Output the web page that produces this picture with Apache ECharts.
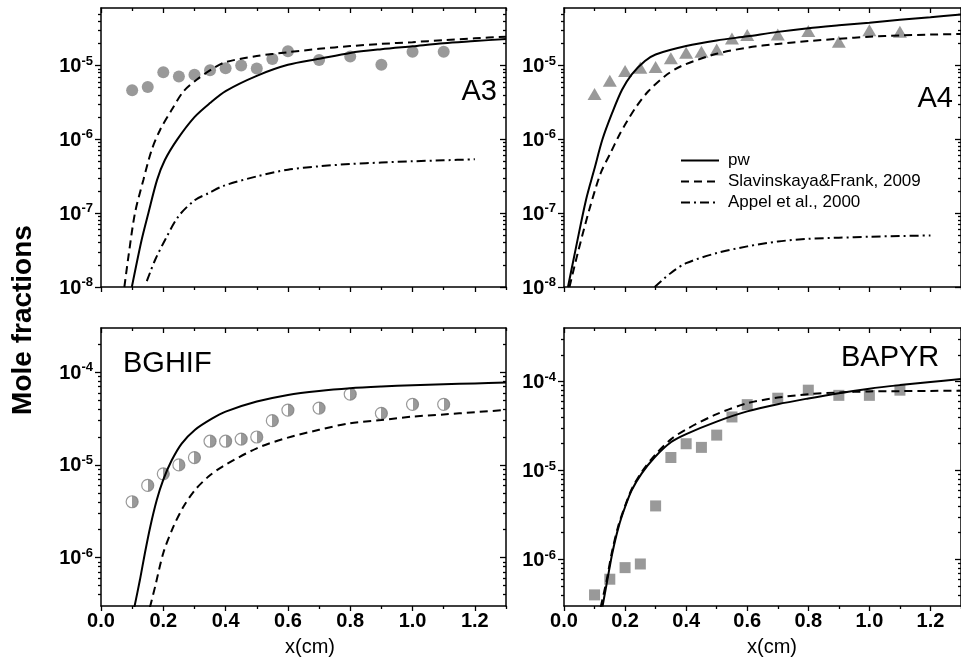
<!DOCTYPE html>
<html>
<head>
<meta charset="utf-8">
<title>Mole fractions of PAH species</title>
<script src="https://cdn.jsdelivr.net/npm/echarts@6/dist/echarts.min.js"></script>
<style>
  html, body { margin: 0; padding: 0; background: #fff; }
  #chart { width: 961px; height: 664px; }
</style>
</head>
<body>
<div id="chart"></div>
<script>
// ---- Measured mole fractions (symbols) ----
const xExp = [0.1, 0.15, 0.2, 0.25, 0.3, 0.35, 0.4, 0.45, 0.5, 0.55, 0.6, 0.7, 0.8, 0.9, 1.0, 1.1];
const a3Exp = [4.6e-6, 5.1e-6, 8.1e-6, 7.1e-6, 7.5e-6, 8.6e-6, 9.2e-6, 1.0e-5, 9.1e-6, 1.22e-5, 1.56e-5, 1.19e-5, 1.32e-5, 1.02e-5, 1.53e-5, 1.53e-5];
const a4Exp = [4.1e-6, 6.2e-6, 8.4e-6, 9.3e-6, 9.5e-6, 1.25e-5, 1.49e-5, 1.53e-5, 1.65e-5, 2.32e-5, 2.58e-5, 2.63e-5, 2.92e-5, 2.09e-5, 3.0e-5, 2.86e-5];
const bghifExp = [4.0e-6, 6.0e-6, 8.0e-6, 1.0e-5, 1.2e-5, 1.8e-5, 1.8e-5, 1.9e-5, 2.0e-5, 3.0e-5, 3.9e-5, 4.1e-5, 5.8e-5, 3.6e-5, 4.5e-5, 4.5e-5];
const bapyrExp = [4.0e-7, 6.0e-7, 8.1e-7, 8.9e-7, 4.0e-6, 1.4e-5, 2.0e-5, 1.82e-5, 2.5e-5, 4.0e-5, 5.5e-5, 6.5e-5, 8.0e-5, 7.0e-5, 7.0e-5, 8.0e-5];

// ---- Model profiles ----
// A3
const a3PwX = [0.099, 0.13, 0.152, 0.18, 0.205, 0.245, 0.3, 0.35, 0.4, 0.5, 0.6, 0.7, 0.8, 0.9, 1.0, 1.1, 1.2, 1.3];
const a3PwY = [1.0e-8, 4.27e-8, 1.0e-7, 2.82e-7, 5.25e-7, 1.0e-6, 2.0e-6, 3.1e-6, 4.5e-6, 7.24e-6, 1.02e-5, 1.23e-5, 1.48e-5, 1.66e-5, 1.82e-5, 2.0e-5, 2.14e-5, 2.29e-5];
const a3SfX = [0.075, 0.088, 0.109, 0.136, 0.163, 0.19, 0.227, 0.265, 0.308, 0.356, 0.4, 0.5, 0.6, 0.7, 0.8, 0.9, 1.0, 1.1, 1.2, 1.3];
const a3SfY = [1.0e-8, 2.57e-8, 1.0e-7, 2.82e-7, 7.24e-7, 1.35e-6, 2.51e-6, 4.47e-6, 6.46e-6, 8.91e-6, 1.11e-5, 1.34e-5, 1.51e-5, 1.68e-5, 1.83e-5, 1.96e-5, 2.07e-5, 2.2e-5, 2.33e-5, 2.45e-5];
const a3ApX = [0.147, 0.174, 0.206, 0.249, 0.302, 0.345, 0.393, 0.5, 0.6, 0.7, 0.8, 0.9, 1.0, 1.1, 1.2];
const a3ApY = [1.2e-8, 2.34e-8, 4.37e-8, 9.1e-8, 1.51e-7, 1.86e-7, 2.34e-7, 3.15e-7, 3.88e-7, 4.31e-7, 4.63e-7, 4.85e-7, 5.04e-7, 5.2e-7, 5.36e-7];
// A4
const a4PwX = [0.013, 0.04, 0.072, 0.099, 0.126, 0.158, 0.19, 0.222, 0.265, 0.3, 0.4, 0.5, 0.6, 0.7, 0.8, 0.9, 1.0, 1.1, 1.2, 1.3];
const a4PwY = [1.0e-8, 3.55e-8, 1.51e-7, 3.89e-7, 1.0e-6, 2.29e-6, 4.68e-6, 7.59e-6, 1.15e-5, 1.41e-5, 1.83e-5, 2.18e-5, 2.48e-5, 2.85e-5, 3.2e-5, 3.5e-5, 3.8e-5, 4.15e-5, 4.5e-5, 4.9e-5];
const a4SfX = [0.018, 0.045, 0.083, 0.12, 0.153, 0.179, 0.206, 0.238, 0.276, 0.33, 0.383, 0.5, 0.6, 0.7, 0.8, 0.9, 1.0, 1.1, 1.2, 1.3];
const a4SfY = [1.0e-8, 2.88e-8, 1.12e-7, 3.47e-7, 6.61e-7, 1.1e-6, 1.74e-6, 2.82e-6, 4.47e-6, 7.16e-6, 9.77e-6, 1.44e-5, 1.74e-5, 1.96e-5, 2.14e-5, 2.3e-5, 2.45e-5, 2.55e-5, 2.62e-5, 2.67e-5];
const a4ApX = [0.297, 0.35, 0.4, 0.5, 0.6, 0.7, 0.8, 0.9, 1.0, 1.1, 1.2];
const a4ApY = [1.0e-8, 1.55e-8, 2.1e-8, 2.88e-8, 3.55e-8, 4.13e-8, 4.5e-8, 4.65e-8, 4.79e-8, 4.9e-8, 4.99e-8];
// BGHIF
const bgPwX = [0.106, 0.125, 0.141, 0.158, 0.179, 0.2, 0.227, 0.259, 0.302, 0.356, 0.4, 0.5, 0.6, 0.7, 0.8, 0.9, 1.0, 1.1, 1.2, 1.3];
const bgPwY = [2.8e-7, 5.75e-7, 1.12e-6, 2.14e-6, 4.17e-6, 6.92e-6, 1.12e-5, 1.7e-5, 2.4e-5, 3.16e-5, 3.76e-5, 4.82e-5, 5.69e-5, 6.28e-5, 6.71e-5, 7.0e-5, 7.23e-5, 7.4e-5, 7.57e-5, 7.73e-5];
const bgSfX = [0.157, 0.174, 0.2, 0.232, 0.265, 0.302, 0.345, 0.39, 0.5, 0.6, 0.7, 0.8, 0.9, 1.0, 1.1, 1.2, 1.3];
const bgSfY = [2.9e-7, 4.9e-7, 1.12e-6, 2.14e-6, 3.55e-6, 5.37e-6, 7.48e-6, 9.6e-6, 1.51e-5, 1.97e-5, 2.39e-5, 2.82e-5, 3.05e-5, 3.32e-5, 3.5e-5, 3.7e-5, 3.92e-5];
// BAPYR
const bpPwX = [0.126, 0.142, 0.158, 0.179, 0.2, 0.222, 0.254, 0.297, 0.351, 0.4, 0.5, 0.6, 0.7, 0.8, 0.9, 1.0, 1.1, 1.2, 1.3];
const bpPwY = [2.95e-7, 5.89e-7, 1.17e-6, 2.34e-6, 3.89e-6, 6.03e-6, 9.23e-6, 1.41e-5, 2.09e-5, 2.57e-5, 3.55e-5, 4.62e-5, 5.56e-5, 6.46e-5, 7.41e-5, 8.32e-5, 9.12e-5, 9.89e-5, 1.07e-4];
const bpSfX = [0.12, 0.14, 0.156, 0.178, 0.2, 0.222, 0.254, 0.297, 0.35, 0.4, 0.5, 0.6, 0.7, 0.8, 0.9, 1.0, 1.1, 1.2, 1.3];
const bpSfY = [2.9e-7, 5.9e-7, 1.17e-6, 2.4e-6, 4.0e-6, 6.2e-6, 9.6e-6, 1.48e-5, 2.24e-5, 2.9e-5, 4.3e-5, 5.7e-5, 6.6e-5, 7.2e-5, 7.55e-5, 7.75e-5, 7.8e-5, 7.85e-5, 7.9e-5];

// ---- Axis ticks ----
const xMajorTicks = [0.0, 0.2, 0.4, 0.6, 0.8, 1.0, 1.2];
const xMinorTicks = [0.1, 0.3, 0.5, 0.7, 0.9, 1.1, 1.3];
const yMajorTop = [1e-8, 1e-7, 1e-6, 1e-5];
const yMajorBottom = [1e-6, 1e-5, 1e-4];
const panelNames = ['A3', 'A4', 'BGHIF', 'BAPYR'];
const seriesNames = ['pw', 'Slavinskaya&Frank, 2009', 'Appel et al., 2000'];

const FONT = "'Liberation Sans', Arial, Helvetica, sans-serif";
const BLACK = '#000';
const GRAY = '#808080';

// panel frames in pixels
const grids = [
  { left: 101, top: 8, width: 405, height: 279 },
  { left: 564, top: 8, width: 403, height: 279 },
  { left: 101, top: 328, width: 405, height: 278 },
  { left: 564, top: 328, width: 403, height: 278 }
];
const yRanges = [[1e-8, 6e-5], [1e-8, 6e-5], [3e-7, 3e-4], [3e-7, 4e-4]];
const yMajors = [yMajorTop, yMajorTop, yMajorBottom, yMajorBottom];

// 2..9 x 10^k marks inside the range of a log axis
function logMinorTicks(range) {
  const out = [];
  const k0 = Math.floor(Math.log10(range[0]));
  const k1 = Math.ceil(Math.log10(range[1]));
  for (let k = k0; k <= k1; k++) {
    for (let m = 2; m <= 9; m++) {
      const v = m * Math.pow(10, k);
      if (v > range[0] && v < range[1]) out.push(v);
    }
  }
  return out;
}

function pairs(xs, ys) { return xs.map((x, i) => [x, ys[i]]); }

const axisLineStyle = { color: BLACK, width: 1.5 };
const tickLineStyle = { color: BLACK, width: 1.3 };

const xAxes = [];
const yAxes = [];
grids.forEach((g, gi) => {
  const hasLabels = gi >= 2;
  // bottom axis with labels and major ticks
  xAxes.push({
    gridIndex: gi, type: 'value', min: 0, max: 1.3, position: 'bottom',
    axisLine: { show: true, onZero: false, lineStyle: axisLineStyle },
    axisTick: { show: true, inside: false, length: 5, customValues: xMajorTicks, lineStyle: tickLineStyle },
    axisLabel: {
      show: hasLabels, customValues: xMajorTicks, margin: 5,
      formatter: v => v.toFixed(1),
      fontFamily: FONT, fontSize: 20, fontWeight: 'bold', color: BLACK
    },
    splitLine: { show: false },
    name: hasLabels ? 'x(cm)' : '',
    nameLocation: 'middle', nameGap: 31,
    nameTextStyle: { fontFamily: FONT, fontSize: 20, color: BLACK, padding: [0, 0, 0, gi === 2 ? 13 : 19] }
  });
  // bottom minor ticks
  xAxes.push({
    gridIndex: gi, type: 'value', min: 0, max: 1.3, position: 'bottom',
    axisLine: { show: false, onZero: false },
    axisTick: { show: true, inside: false, length: 3, customValues: xMinorTicks, lineStyle: tickLineStyle },
    axisLabel: { show: false }, splitLine: { show: false }
  });
  // top mirror axis
  xAxes.push({
    gridIndex: gi, type: 'value', min: 0, max: 1.3, position: 'top',
    axisLine: { show: true, onZero: false, lineStyle: axisLineStyle },
    axisTick: { show: true, inside: true, length: 5, customValues: xMajorTicks, lineStyle: tickLineStyle },
    axisLabel: { show: false }, splitLine: { show: false }
  });
  xAxes.push({
    gridIndex: gi, type: 'value', min: 0, max: 1.3, position: 'top',
    axisLine: { show: false, onZero: false },
    axisTick: { show: true, inside: true, length: 3, customValues: xMinorTicks, lineStyle: tickLineStyle },
    axisLabel: { show: false }, splitLine: { show: false }
  });

  const range = yRanges[gi];
  const minors = logMinorTicks(range);
  const logBase = { gridIndex: gi, type: 'log', logBase: 10, min: range[0], max: range[1], splitLine: { show: false } };
  // left axis with decade labels
  yAxes.push(Object.assign({}, logBase, {
    position: 'left',
    axisLine: { show: true, onZero: false, lineStyle: axisLineStyle },
    axisTick: { show: true, inside: false, length: 6, customValues: yMajors[gi], lineStyle: tickLineStyle },
    axisLabel: {
      show: true, customValues: yMajors[gi], margin: 8,
      formatter: v => '{b|10}{s|' + Math.round(Math.log10(v)) + '}',
      rich: {
        b: { fontFamily: FONT, fontSize: 20, fontWeight: 'bold', color: BLACK, lineHeight: 22, verticalAlign: 'bottom' },
        s: { fontFamily: FONT, fontSize: 13, fontWeight: 'bold', color: BLACK, lineHeight: 13, verticalAlign: 'top', padding: [0, 0, 11, 0] }
      }
    }
  }));
  yAxes.push(Object.assign({}, logBase, {
    position: 'left',
    axisLine: { show: false, onZero: false },
    axisTick: { show: true, inside: false, length: 3, customValues: minors, lineStyle: tickLineStyle },
    axisLabel: { show: false }
  }));
  // right mirror axis
  yAxes.push(Object.assign({}, logBase, {
    position: 'right',
    axisLine: { show: true, onZero: false, lineStyle: axisLineStyle },
    axisTick: { show: true, inside: true, length: 6, customValues: yMajors[gi], lineStyle: tickLineStyle },
    axisLabel: { show: false }
  }));
  yAxes.push(Object.assign({}, logBase, {
    position: 'right',
    axisLine: { show: false, onZero: false },
    axisTick: { show: true, inside: true, length: 3, customValues: minors, lineStyle: tickLineStyle },
    axisLabel: { show: false }
  }));
});

const lineStyles = [
  { color: BLACK, width: 2, type: 'solid' },
  { color: BLACK, width: 2, type: [8, 5] },
  { color: BLACK, width: 2, type: [9, 4, 2, 4] }
];

function modelLine(gi, which, xs, ys) {
  return {
    type: 'line', name: seriesNames[which],
    xAxisIndex: gi * 4, yAxisIndex: gi * 4,
    data: pairs(xs, ys),
    symbol: 'none', smooth: 0.3,
    clip: true, z: 3,
    lineStyle: lineStyles[which],
    itemStyle: { color: BLACK }
  };
}

function expPoints(gi, ys, symbol, size, itemStyle) {
  return {
    type: 'scatter', name: panelNames[gi] + ' exp',
    xAxisIndex: gi * 4, yAxisIndex: gi * 4,
    data: pairs(xExp, ys),
    symbol: symbol, symbolSize: size, z: 2,
    itemStyle: itemStyle
  };
}

const halfFill = new echarts.graphic.LinearGradient(0, 0, 1, 0, [
  { offset: 0, color: '#ffffff' }, { offset: 0.5, color: '#ffffff' },
  { offset: 0.5, color: GRAY }, { offset: 1, color: GRAY }
]);

const series = [
  expPoints(0, a3Exp, 'circle', 12, { color: GRAY }),
  modelLine(0, 0, a3PwX, a3PwY),
  modelLine(0, 1, a3SfX, a3SfY),
  modelLine(0, 2, a3ApX, a3ApY),

  expPoints(1, a4Exp, 'triangle', [14, 12], { color: GRAY }),
  modelLine(1, 0, a4PwX, a4PwY),
  modelLine(1, 1, a4SfX, a4SfY),
  modelLine(1, 2, a4ApX, a4ApY),

  expPoints(2, bghifExp, 'circle', 12, { color: halfFill, borderColor: GRAY, borderWidth: 1.2 }),
  modelLine(2, 0, bgPwX, bgPwY),
  modelLine(2, 1, bgSfX, bgSfY),

  expPoints(3, bapyrExp, 'rect', 11, { color: GRAY }),
  modelLine(3, 0, bpPwX, bpPwY),
  modelLine(3, 1, bpSfX, bpSfY)
];

const panelLabel = (text, x, y, align) => ({
  type: 'text', x: x, y: y,
  style: { text: text, fill: BLACK, font: '29px ' + FONT, textAlign: align, textVerticalAlign: 'middle' }
});

const option = {
  animation: false,
  backgroundColor: '#fff',
  grid: grids.map(g => Object.assign({ containLabel: false }, g)),
  xAxis: xAxes,
  yAxis: yAxes,
  legend: {
    data: seriesNames,
    orient: 'vertical',
    left: 675, top: 147,
    itemWidth: 38, itemHeight: 14, itemGap: 4,
    itemStyle: { opacity: 0 },
    textStyle: { fontFamily: FONT, fontSize: 17, color: BLACK, padding: [0, 0, 0, 4], lineHeight: 17 },
    selectedMode: false
  },
  graphic: [
    {
      type: 'text', x: 23, y: 320, rotation: Math.PI / 2,
      style: { text: 'Mole fractions', fill: BLACK, font: 'bold 28px ' + FONT, textAlign: 'center', textVerticalAlign: 'middle' }
    },
    panelLabel('A3', 497, 92, 'right'),
    panelLabel('A4', 953, 99, 'right'),
    panelLabel('BGHIF', 123, 364, 'left'),
    panelLabel('BAPYR', 841, 358, 'left')
  ],
  series: series
};

const chart = echarts.init(document.getElementById('chart'), null, { renderer: 'canvas' });
chart.setOption(option);
</script>
</body>
</html>
